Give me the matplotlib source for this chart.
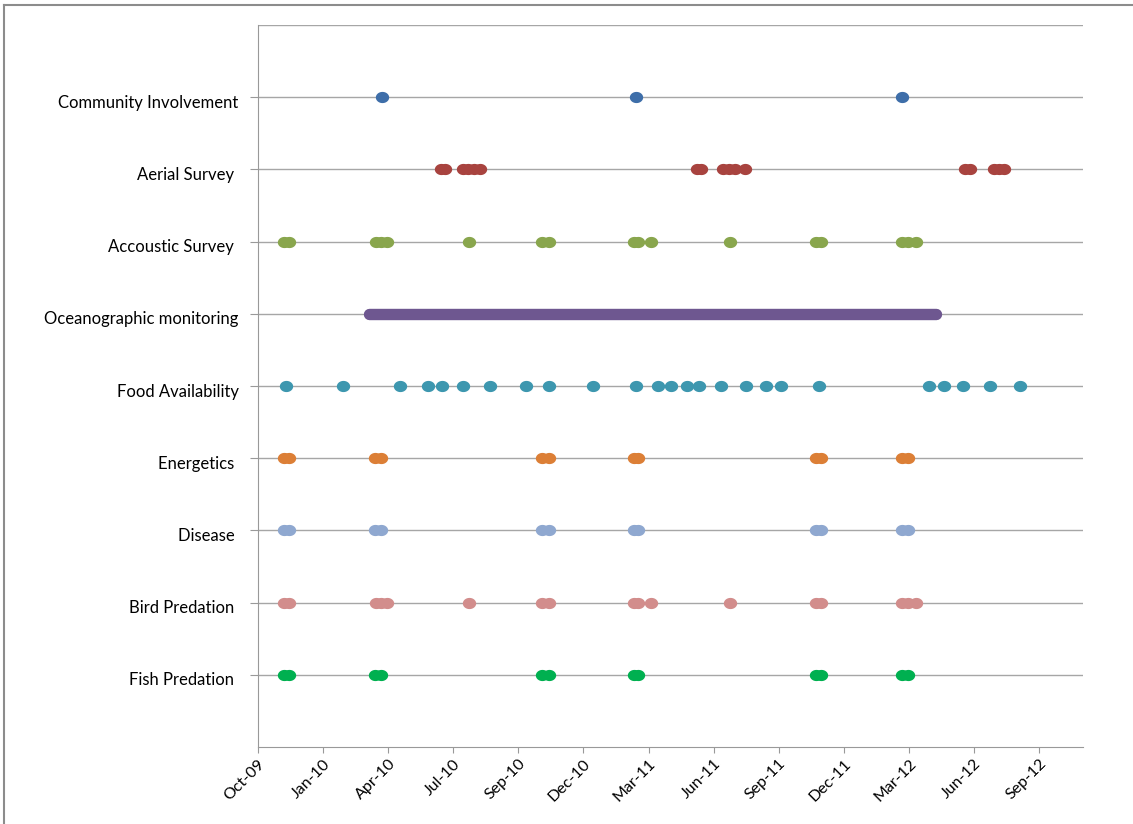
import datetime as dt

import numpy as np
import matplotlib.pyplot as plt
import matplotlib.dates as mdates
from matplotlib.lines import Line2D
from matplotlib.path import Path
from matplotlib.transforms import ScaledTranslation

# rows from top to bottom
categories = ['Community Involvement', 'Aerial Survey ', 'Accoustic Survey ',
              'Oceanographic monitoring', 'Food Availability', 'Energetics ',
              'Disease ', 'Bird Predation ', 'Fish Predation ']

community = ['2010-03-25', '2011-03-10', '2012-03-13']
aerial = ['2010-06-14', '2010-06-20', '2010-07-15', '2010-07-22', '2010-07-30', '2010-08-07',
          '2011-06-03', '2011-06-09', '2011-07-09', '2011-07-17', '2011-07-25', '2011-08-08',
          '2012-06-07', '2012-06-15', '2012-07-18', '2012-07-25', '2012-08-01']
accoustic = ['2009-11-09', '2009-11-16', '2010-03-16', '2010-03-23', '2010-03-31',
             '2010-07-23', '2010-11-01', '2010-11-10', '2011-03-08', '2011-03-14',
             '2011-04-01', '2011-07-18', '2011-11-14', '2011-11-21', '2012-03-13',
             '2012-03-20', '2012-04-01']
oceanographic = ['2010-03-07', '2012-04-29']  # continuous monitoring, start / end
food = ['2009-11-12', '2010-01-30', '2010-04-18', '2010-05-27', '2010-06-16', '2010-07-14',
        '2010-08-21', '2010-10-09', '2010-11-10', '2011-01-10', '2011-03-10', '2011-04-10',
        '2011-04-28', '2011-05-20', '2011-06-06', '2011-07-06', '2011-08-10', '2011-09-06',
        '2011-09-27', '2011-11-18', '2012-04-19', '2012-05-10', '2012-06-05', '2012-07-12',
        '2012-08-22']
energetics = ['2009-11-09', '2009-11-16', '2010-03-15', '2010-03-23', '2010-11-01',
              '2010-11-10', '2011-03-08', '2011-03-14', '2011-11-14', '2011-11-21',
              '2012-03-13', '2012-03-20']
disease = list(energetics)
bird = list(accoustic)
fish = list(energetics)

colors = ['#3e6ea9', '#a8433f', '#89a64d', '#6e5790', '#3d97af',
          '#dc7f36', '#8fa8d0', '#d28d8c', '#00b050']

tick_start = dt.date(2009, 10, 4)
x_min, x_max = dt.date(2009, 10, 4), dt.date(2012, 11, 17)


def to_dates(vals):
    return [dt.datetime.strptime(v, '%Y-%m-%d') for v in vals]


# excel markers come out a bit wider than tall
t = np.linspace(0, 2 * np.pi, 60)
oval = Path(np.column_stack([np.cos(t), 0.84 * np.sin(t)]), closed=True)

plt.rcParams['font.family'] = ['Lato', 'DejaVu Sans']

fig = plt.figure(figsize=(11.33, 8.24), dpi=100)
ax = fig.add_axes([0.2277, 0.0935, 0.7278, 0.876])

n = len(categories)
ypos = [n - i for i in range(n)]

for y in ypos + [10]:
    ax.axhline(y, color='#a6a6a6', lw=1.0, zorder=1)

series = [community, aerial, accoustic, None, food, energetics, disease, bird, fish]
for i, vals in enumerate(series):
    if vals is None:
        d = to_dates(oceanographic)
        ax.plot(d, [ypos[i]] * 2, color=colors[i], lw=8.2, solid_capstyle='round', zorder=3)
        continue
    d = to_dates(vals)
    ax.plot(d, [ypos[i]] * len(d), ls='none', marker=oval, ms=9.6, color=colors[i],
            markeredgewidth=0, zorder=3)

ax.set_ylim(0, 10)
ax.set_yticks(ypos)
ax.set_yticklabels(categories, fontsize=12)

ax.set_xlim(x_min, x_max)
xticks = [tick_start + dt.timedelta(days=90 * k) for k in range(13)]
ax.set_xticks(xticks)
ax.xaxis.set_major_formatter(mdates.DateFormatter('%b-%y'))
for lab in ax.get_xticklabels():
    lab.set_rotation(45)
    lab.set_ha('right')
    lab.set_rotation_mode('anchor')
    lab.set_fontsize(11.5)

for s in ['top', 'right']:
    ax.spines[s].set_visible(False)
for s in ['left', 'bottom']:
    ax.spines[s].set_color('#999999')
ax.tick_params(axis='y', length=6, color='#999999', pad=8)
ax.tick_params(axis='x', length=4, color='#999999', pad=3)

# category names sit a little below their lines, as in excel
shift = ScaledTranslation(0, -4 / 100, fig.dpi_scale_trans)
for tk in ax.yaxis.get_major_ticks():
    tk.label1.set_transform(tk.label1.get_transform() + shift)

# outer frame (only top and left edges visible in the crop)
fig.add_artist(Line2D([0.0035, 1.0], [0.9935, 0.9935], color='#8c8c8c', lw=1.5))
fig.add_artist(Line2D([0.0035, 0.0035], [0.0, 0.9935], color='#8c8c8c', lw=1.5))

plt.savefig('out.png', dpi=100)
